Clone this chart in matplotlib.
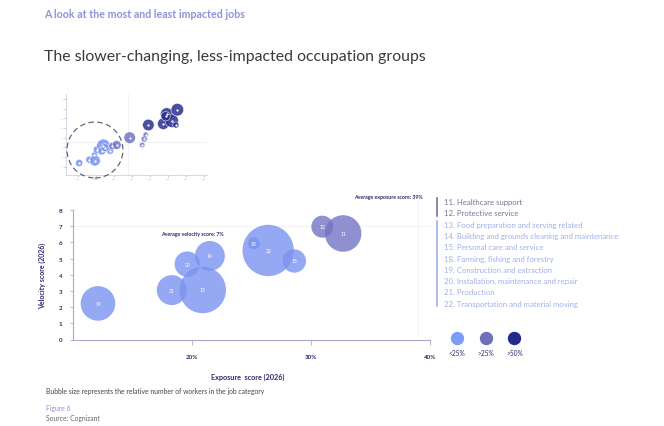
import matplotlib
matplotlib.use("Agg")
import matplotlib.pyplot as plt
from matplotlib.lines import Line2D

plt.rcParams['font.family'] = ['Lato', 'DejaVu Sans']

W, H = 664, 427

# main chart data
job_ids = ['11', '12', '13', '14', '15', '18', '19', '20', '21', '22']
exposure = [32.7, 30.95, 20.9, 21.5, 28.6, 25.2, 12.1, 19.6, 18.3, 26.4]
velocity = [6.55, 6.97, 3.06, 5.16, 4.85, 5.94, 2.23, 4.66, 3.05, 5.5]
workers = [335, 121, 543, 225, 137, 36, 300, 161, 225, 660]
group = ['mid', 'mid', 'low', 'low', 'low', 'low', 'low', 'low', 'low', 'low']

job_names = ['11. Healthcare support', '12. Protective service',
             '13. Food preparation and serving related',
             '14. Building and grounds cleaning and maintenance',
             '15. Personal care and service', '18. Farming, fishing and forestry',
             '19. Construction and extraction',
             '20. Installation, maintenance and repair', '21. Production',
             '22. Transportation and material moving']

avg_exposure = 39
avg_velocity = 7
x_ticks = [20, 30, 40]
x_tick_labels = ['20%', '30%', '40%']
y_ticks = [0, 1, 2, 3, 4, 5, 6, 7, 8]

# thumbnail of the full chart (all groups)
thumb_x = [1.06, 1.63, 1.91, 1.94, 2.07, 2.41, 2.32, 2.78, 2.5,
           2.91, 3.15, 3.87, 4.57, 4.68, 4.76,
           4.91, 5.74, 5.93, 6.21, 6.52, 6.44, 5.87]
thumb_y = [1.38, 1.72, 2.21, 1.62, 2.75, 3.16, 2.62, 2.65, 2.96,
           3.13, 3.24, 3.99, 3.24, 3.86, 4.30,
           5.30, 5.43, 6.43, 5.74, 6.88, 5.30, 6.2]
thumb_w = [7.3, 7.3, 5.3, 16, 9, 25, 9, 7.3, 9,
           7.3, 11, 18.5, 4, 5.3, 4,
           18.5, 18.5, 22, 25, 22, 5.3, 12]
thumb_group = ['low'] * 9 + ['mid'] * 6 + ['high'] * 7

colors = {'low': '#7b93f0', 'mid': '#7374c4', 'high': '#2a2f8e'}
legend_colors = ['#7b9cf7', '#6e70b8', '#232a8c']
legend_labels = ['<25%', '>25%', '>50%']

navy = '#2d2b6b'
axis_col = '#a9a9cc'

fig = plt.figure(figsize=(W / 100, H / 100), dpi=100)
fig.patch.set_facecolor('white')


def fx(px):
    return px / W


def fy(py):
    return 1 - py / H


fig.text(fx(44), fy(15), 'A look at the most and least impacted jobs',
         fontsize=7.7, color='#8d93dc', fontweight='bold', va='center')
fig.text(fx(44), fy(57), 'The slower-changing, less-impacted occupation groups',
         fontsize=11.4, color='#3a3a3a', va='center')

# ---- thumbnail ----
ax2 = fig.add_axes([fx(66), fy(176), fx(207) - fx(66), fy(95) - fy(176)])
ax2.set_xlim(0.33, 8.17)
ax2.set_ylim(0.14, 8.5)
for s in ['top', 'right']:
    ax2.spines[s].set_visible(False)
for s in ['left', 'bottom']:
    ax2.spines[s].set_color('#c9c9dc')
    ax2.spines[s].set_linewidth(0.5)
ax2.set_xticks(range(1, 9))
ax2.set_yticks(range(1, 9))
ax2.set_xticklabels(['%d%%' % (v * 10) for v in range(1, 9)])
ax2.set_yticklabels([str(v) for v in range(1, 9)])
ax2.tick_params(labelsize=1.6, length=1.2, width=0.4, colors='#9a9ab5', pad=1)
ax2.axvline(3.78, color='#ececf2', lw=0.5, zorder=0)
ax2.axhline(3.58, color='#ececf2', lw=0.5, zorder=0)
tc = [colors[g] for g in thumb_group]
ts = [2.07 * 1.8 * w for w in thumb_w]
ax2.scatter(thumb_x, thumb_y, s=ts, c=tc, alpha=0.85, edgecolors='white',
            linewidths=0.4, zorder=3)
ax2.scatter(thumb_x, thumb_y, s=0.4, c='white', zorder=4)
ax2.scatter([1.94], [2.72], s=2.07 * 28 ** 2, facecolors='none',
            edgecolors='#55556e', linewidths=0.8, linestyles=(0, (5, 3)),
            zorder=5, clip_on=False)

# ---- main chart ----
ax = fig.add_axes([fx(73), fy(340.5), fx(430) - fx(73), fy(211) - fy(340.5)])
ax.set_xlim(10, 40)
ax.set_ylim(0, 8)
for s in ['top', 'right']:
    ax.spines[s].set_visible(False)
for s in ['left', 'bottom']:
    ax.spines[s].set_color(axis_col)
    ax.spines[s].set_linewidth(0.8)
ax.set_xticks(x_ticks)
ax.set_xticklabels(x_tick_labels)
ax.set_yticks(y_ticks)
ax.tick_params(axis='x', labelsize=4.5, length=3.5, width=0.6, colors=axis_col,
               labelcolor=navy, pad=7)
ax.tick_params(axis='y', labelsize=4.5, length=2.5, width=0.6, colors=axis_col,
               labelcolor=navy, pad=5)
for lab in ax.get_xticklabels() + ax.get_yticklabels():
    lab.set_fontweight('bold')

ax.axhline(avg_velocity, color='#f0f0f4', lw=0.6, zorder=0)
ax.plot([avg_exposure, avg_exposure], [0.2, 8.7], color='#f0f0f4', lw=0.6,
        zorder=0, clip_on=False)
ax.text(39.4, 8.83, 'Average exposure score: %d%%' % avg_exposure,
        fontsize=3.8, color=navy, fontweight='bold', ha='right', va='center')
ax.text(20, 6.55, 'Average velocity score: %d%%' % avg_velocity,
        fontsize=3.8, color=navy, fontweight='bold', ha='center', va='center')

bc = [colors[g] for g in group]
bs = [2.07 * w for w in workers]
ax.scatter(exposure, velocity, s=bs, c=bc, alpha=0.8, edgecolors='none',
           zorder=3)
for x, y, t in zip(exposure, velocity, job_ids):
    ax.text(x, y, t, fontsize=3.6, color='white', ha='center', va='center',
            zorder=4)

ax.set_ylabel('Velocity score (2026)', fontsize=5, color=navy,
              fontweight='bold')
ax.yaxis.set_label_coords(-0.075, 0.5)
fig.text(fx(248), fy(377), 'Exposure  score (2026)', fontsize=5.2, color=navy,
         fontweight='bold', ha='center', va='center')

# ---- right-hand list ----
fig.add_artist(Line2D([fx(437), fx(437)], [fy(199), fy(217)],
                      color='#77779a', lw=1.2))
fig.add_artist(Line2D([fx(437), fx(437)], [fy(222), fy(307)],
                      color='#9fb0ee', lw=1.2))
for i, name in enumerate(job_names):
    col = '#74749a' if group[i] == 'mid' else '#9fafec'
    fig.text(fx(444), fy(202.7 + i * 11.26), name, fontsize=5.6, color=col,
             va='center')

for i in range(3):
    px = 457.3 + i * 28.5
    fig.add_artist(Line2D([fx(px)], [fy(339)], marker='o', markersize=8.6,
                          color=legend_colors[i], lw=0))
    fig.text(fx(px), fy(353), legend_labels[i], fontsize=4.8, color=navy,
             ha='center', va='center')

fig.text(fx(46), fy(392), 'Bubble size represents the relative number of workers in the job category',
         fontsize=4.9, color='#444444', va='center')
fig.text(fx(46), fy(409), 'Figure 6', fontsize=4.9, color='#8a8fe0', va='center')
fig.text(fx(46), fy(419), 'Source: Cognizant', fontsize=4.9, color='#666666',
         va='center')

fig.savefig('out.png', dpi=100, facecolor='white')
